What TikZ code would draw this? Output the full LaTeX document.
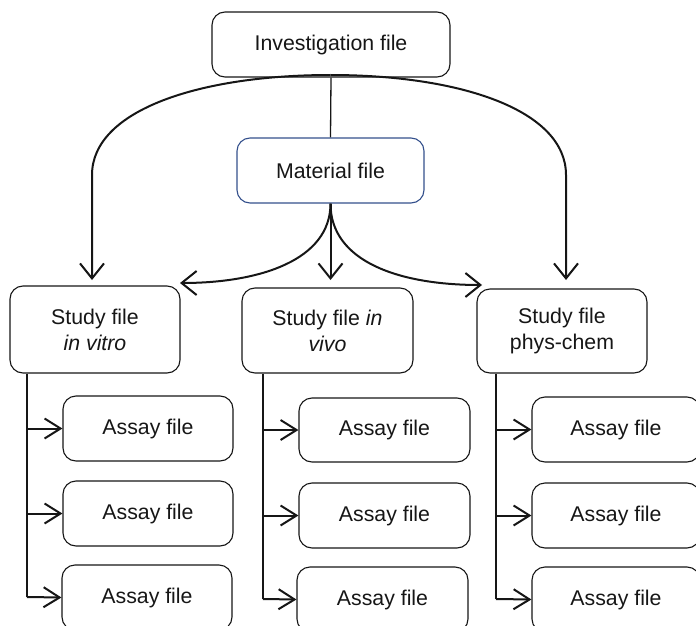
\documentclass[tikz,border=0pt]{standalone}
\usepackage{fontspec}
\setmainfont{Liberation Sans}
\usetikzlibrary{arrows.meta}
\definecolor{matblue}{HTML}{34508C}
\definecolor{ink}{HTML}{161616}
\begin{document}
\begin{tikzpicture}[x=1pt,y=-1pt,
  filebox/.style={draw=ink, line width=1.1pt, rounded corners=13pt, align=center,
    inner sep=0pt, font=\fontsize{21.3}{26}\selectfont, text=ink},
  bigarrow/.style={draw=ink, line width=2pt, -{Straight Barb[length=15pt,width=24pt,line width=2pt]}},
  smallarrow/.style={draw=ink, line width=2pt, -{Straight Barb[length=16pt,width=20pt,line width=2pt]}},
  trunk/.style={draw=ink, line width=1.3pt}]
\useasboundingbox (0,0) rectangle (696,626);
\clip (0,0) rectangle (696,626);
% top
\node[filebox, minimum width=238pt, minimum height=65pt] (inv) at (331,44.5) {Investigation file};
\node[filebox, draw=matblue, minimum width=187pt, minimum height=65pt] (mat) at (330.5,170.5) {Material file};
% studies
\node[filebox, minimum width=170pt, minimum height=87pt] (s1) at (95,329.5) {Study file\\\textit{in vitro}};
\node[filebox, minimum width=171pt, minimum height=85pt] (s2) at (327.5,330.5) {Study file \textit{in}\\\textit{vivo}};
\node[filebox, minimum width=170pt, minimum height=84pt] (s3) at (562,331) {Study file\\phys-chem};
% assays
\node[filebox, minimum width=170pt, minimum height=65pt] (a11) at (148,428.5) {Assay file};
\node[filebox, minimum width=170pt, minimum height=65pt] (a12) at (148,513.5) {Assay file};
\node[filebox, minimum width=170pt, minimum height=65pt] (a13) at (147,597.5) {Assay file};
\node[filebox, minimum width=171pt, minimum height=64pt] (a21) at (384.5,430) {Assay file};
\node[filebox, minimum width=171pt, minimum height=65pt] (a22) at (384.5,515.5) {Assay file};
\node[filebox, minimum width=171pt, minimum height=65pt] (a23) at (382.5,599.5) {Assay file};
\node[filebox, minimum width=168pt, minimum height=65pt] (a31) at (616,429.5) {Assay file};
\node[filebox, minimum width=168pt, minimum height=65pt] (a32) at (616,515.5) {Assay file};
\node[filebox, minimum width=168pt, minimum height=65pt] (a33) at (616,599.5) {Assay file};
% investigation -> material
\coordinate (top) at (330.5,75);
\draw[trunk] (inv.south) -- (mat.north);
% investigation -> study 1 and 3
\coordinate (l1) at (92,175);
\coordinate (r1) at (566,175);
\draw[bigarrow] (top) .. controls (200,75) and (92,110) .. (l1) -- (92,280);
\draw[bigarrow] (top) .. controls (460,75) and (566,110) .. (r1) -- (566,280);
% material -> studies
\draw[bigarrow] (mat.south) .. controls (330.5,260) and (260,283) .. (180,283);
\draw[bigarrow] (mat.south) -- (330.5,280);
\draw[bigarrow] (mat.south) .. controls (330.5,262) and (400,285) .. (482,285);
% study -> assays
\coordinate (t1) at (27,597);
\draw[trunk] (s1.south -| t1) -- (t1);
\draw[smallarrow] (27,428.5) -- (a11.west);
\draw[smallarrow] (27,513.5) -- (a12.west);
\draw[smallarrow] (27,597) -- (a13.west);
\coordinate (t2) at (263,599);
\draw[trunk] (s2.south -| t2) -- (t2);
\draw[smallarrow] (263,430) -- (a21.west);
\draw[smallarrow] (263,515.5) -- (a22.west);
\draw[smallarrow] (263,599) -- (a23.west);
\coordinate (t3) at (496,599);
\draw[trunk] (s3.south -| t3) -- (t3);
\draw[smallarrow] (496,429.5) -- (a31.west);
\draw[smallarrow] (496,515.5) -- (a32.west);
\draw[smallarrow] (496,599) -- (a33.west);
\end{tikzpicture}
\end{document}
